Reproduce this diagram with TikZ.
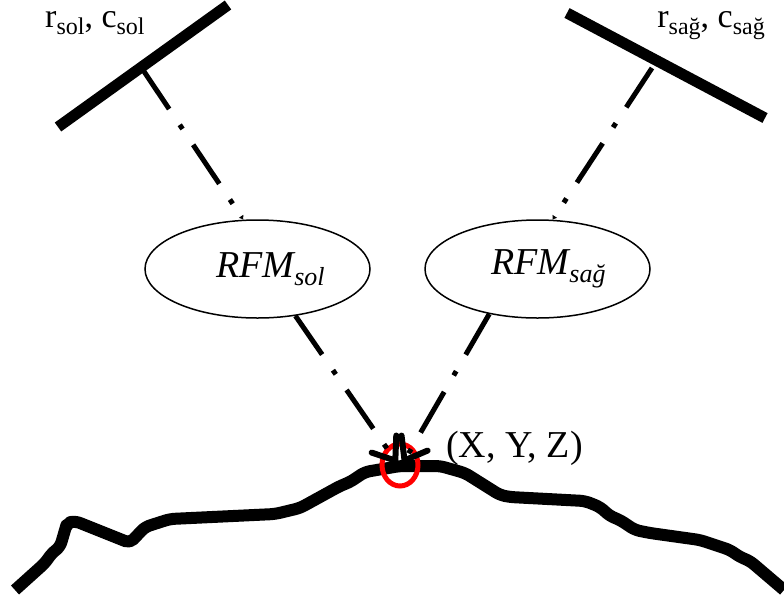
\documentclass[tikz,border=0pt]{standalone}
\usepackage{fontspec}
\setmainfont{Liberation Serif}
\usetikzlibrary{arrows.meta,shapes.geometric}
\newcommand\sbs[2][22]{\raisebox{-0.22em}{\fontsize{#1}{#1}\selectfont #2}}
\begin{document}
\begin{tikzpicture}[x=1pt,y=-1pt,
  sensor/.style={line width=11pt},
  ray/.style={line width=5pt, dash pattern=on 47pt off 19pt on 5pt off 19pt},
  rfm/.style={draw, line width=1.5pt, ellipse, minimum width=225pt, minimum height=98pt, inner sep=0pt, font=\fontsize{38}{42}\selectfont\itshape},
  lbl/.style={font=\fontsize{34}{38}\selectfont, inner sep=0pt},
  bigarrow/.style={-{Straight Barb[length=20pt,width=30pt,line width=6pt,round]}},
  smallarrow/.style={-{Latex[length=4pt,width=6pt]}},
  terrain/.style={line width=12pt, rounded corners=5pt, line join=round}
]
\useasboundingbox (0,0) rectangle (784,598);

% terrain
\draw[terrain] (15,590) -- (45,563) -- (52,553) -- (60,547) -- (65,530) -- (67,523) -- (75,521)
  -- (130,543) -- (145,527) -- (170,519) -- (275,514) -- (300,508) -- (340,486) -- (350,482)
  -- (365,472) -- (400,466) -- (440,466) -- (465,473) -- (500,495) -- (510,497) -- (585,501)
  -- (600,507) -- (610,516) -- (620,520) -- (635,530) -- (650,533) -- (700,540) -- (730,550)
  -- (740,557) -- (750,561) -- (784,590);

% point of interest
\coordinate (P) at (400,465);
\coordinate (pl) at (397,463);
\coordinate (pr) at (403,463);
\draw[red, line width=5pt] (P) ellipse [x radius=18, y radius=21];

% sensors
\draw[sensor] (58,127) -- (228,5);
\draw[sensor] (567,13) -- (765,118);
\coordinate (sl) at (143,70);
\coordinate (sr) at (652,68);

% RFM ellipses
\node[rfm] (rl) at (257.5,269) {\hspace*{26pt}RFM\sbs[26]{sol}};
\node[rfm] (rr) at (537.5,269) {\hspace*{22pt}RFM\sbs[26]{sağ}};

% rays
\draw[ray,smallarrow] (sl) -- (rl.106);
\draw[ray,smallarrow] (sr) -- (rr.73);
\draw[ray,bigarrow] (rl.-51) -- (pl);
\draw[ray,bigarrow] (rr.-137) -- (pr);

% labels
\node[lbl, anchor=base west] (lsol) at (45,27) {r\sbs[24]{sol}, c\sbs[24]{sol}};
\node[lbl, anchor=base east] (lsag) at (765,27) {r\sbs[24]{sağ}, c\sbs[24]{sağ}};
\node[font=\fontsize{38}{42}\selectfont, inner sep=0pt, anchor=west] (xyz) at (446,448) {(X, Y, Z)};
\end{tikzpicture}
\end{document}
